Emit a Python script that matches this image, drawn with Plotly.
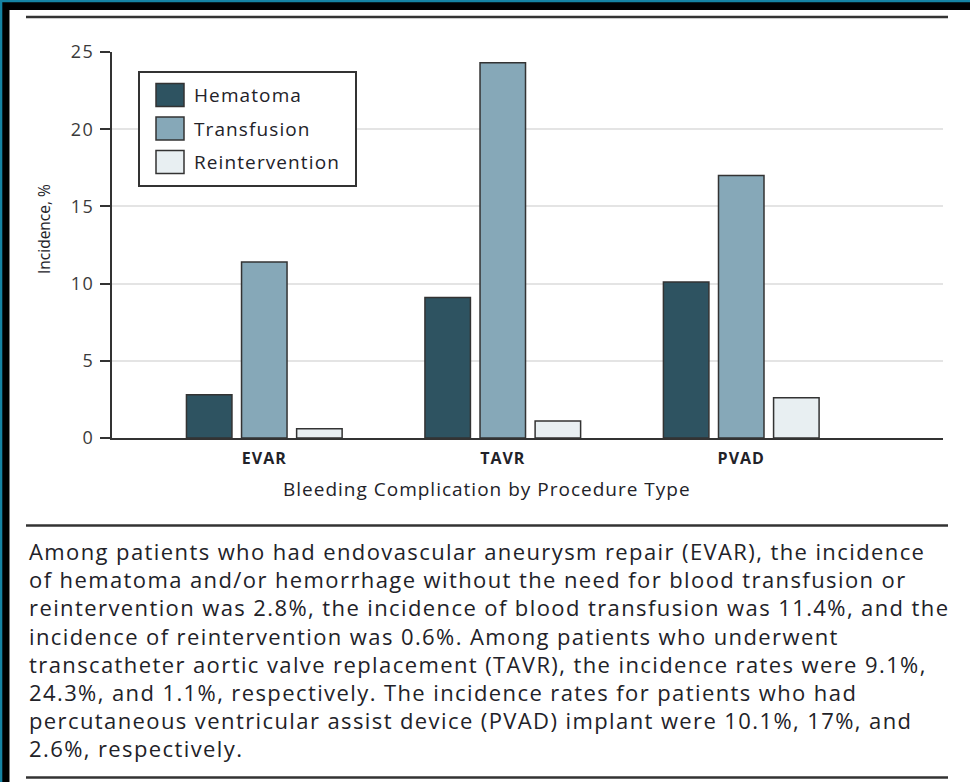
import plotly.graph_objects as go

# ---------------- data ----------------
procedures = ["EVAR", "TAVR", "PVAD"]
series_names = ["Hematoma", "Transfusion", "Reintervention"]
hematoma = [2.8, 9.1, 10.1]
transfusion = [11.4, 24.3, 17.0]
reintervention = [0.6, 1.1, 2.6]
series_values = [hematoma, transfusion, reintervention]
series_colors = ["#2e5361", "#86a8b8", "#e8eff2"]
y_ticks = [0, 5, 10, 15, 20, 25]

x_title = "Bleeding Complication by Procedure Type"
y_title = "Incidence, %"
caption_lines = [
    "Among patients who had endovascular aneurysm repair (EVAR), the incidence",
    "of hematoma and/or hemorrhage without the need for blood transfusion or",
    "reintervention was 2.8%, the incidence of blood transfusion was 11.4%, and the",
    "incidence of reintervention was 0.6%. Among patients who underwent",
    "transcatheter aortic valve replacement (TAVR), the incidence rates were 9.1%,",
    "24.3%, and 1.1%, respectively. The incidence rates for patients who had",
    "percutaneous ventricular assist device (PVAD) implant were 10.1%, 17%, and",
    "2.6%, respectively.",
]

# ---------------- geometry helpers (pixel -> paper) ----------------
W, H = 970, 782
L, R, T, B = 112, 943, 52, 438
def px(x):
    return (x - L) / (R - L)
def py(y):
    return (B - y) / (B - T)

def spaced(s, ls):
    return f'<span style="letter-spacing:{ls}px">{s}</span>'

TEXT = "#222228"
FONT = "Open Sans"

fig = go.Figure()
for name, vals, col in zip(series_names, series_values, series_colors):
    fig.add_trace(go.Bar(
        x=procedures, y=vals, name=name,
        marker=dict(color=col, line=dict(color="#333333", width=1.5)),
        showlegend=False, hoverinfo="x+y+name",
    ))

fig.update_layout(
    width=W, height=H,
    margin=dict(l=L, r=W - R, t=T, b=H - B, pad=0),
    paper_bgcolor="white", plot_bgcolor="white",
    barmode="group", bargap=0.307, bargroupgap=0.174,
    font=dict(family=FONT, color=TEXT),
)
fig.update_xaxes(
    type="category", range=[-0.6386, 2.846],
    showline=True, linecolor="#333333", linewidth=2,
    ticks="", showgrid=False, zeroline=False,
    tickvals=procedures, ticktext=[spaced(p, 1) for p in procedures],
    tickfont=dict(family=FONT, size=16, color=TEXT, weight="bold"),
    ticklabelstandoff=5,
)
fig.update_yaxes(
    range=[0, 25], tickvals=y_ticks, ticktext=[spaced(v, 1.5) for v in y_ticks],
    showline=True, linecolor="#333333", linewidth=2,
    ticks="outside", ticklen=10, tickwidth=2, tickcolor="#333333",
    showgrid=True, gridcolor="#e4e4e4", gridwidth=1.5, zeroline=False,
    tickfont=dict(family=FONT, size=18, color="#3a3a3a"),
    ticklabelstandoff=2,
)

shapes = []
annotations = []

# frame: teal edge + black border (top and left)
shapes.append(dict(type="rect", xref="paper", yref="paper", x0=px(0), x1=px(W), y0=py(0), y1=py(10),
                   fillcolor="#000000", line=dict(width=0), layer="above"))
shapes.append(dict(type="rect", xref="paper", yref="paper", x0=px(0), x1=px(9.5), y0=py(0), y1=py(H),
                   fillcolor="#000000", line=dict(width=0), layer="above"))
shapes.append(dict(type="rect", xref="paper", yref="paper", x0=px(0), x1=px(W), y0=py(0), y1=py(2.3),
                   fillcolor="#1583a3", line=dict(width=0), layer="above"))
shapes.append(dict(type="rect", xref="paper", yref="paper", x0=px(0), x1=px(2.3), y0=py(0), y1=py(H),
                   fillcolor="#1583a3", line=dict(width=0), layer="above"))

# horizontal rules
for yy in [17, 525.5, 777.5]:
    shapes.append(dict(type="line", xref="paper", yref="paper", x0=px(26), x1=px(948), y0=py(yy), y1=py(yy),
                       line=dict(color="#333333", width=2.5)))

# manual legend
shapes.append(dict(type="rect", xref="paper", yref="paper", x0=px(139), x1=px(356), y0=py(72), y1=py(186),
                   fillcolor="white", line=dict(color="#333333", width=2), layer="above"))
leg_centers = [95, 128.5, 162]
for name, col, cy in zip(series_names, series_colors, leg_centers):
    shapes.append(dict(type="rect", xref="paper", yref="paper", x0=px(156), x1=px(184),
                       y0=py(cy + 11.5), y1=py(cy - 11.5),
                       fillcolor=col, line=dict(color="#333333", width=1.5), layer="above"))
    annotations.append(dict(xref="paper", yref="paper", x=px(192), y=py(cy), xanchor="left", yanchor="middle",
                            text=spaced(name, 1.1), showarrow=False,
                            font=dict(family=FONT, size=19, color=TEXT)))

# axis titles
annotations.append(dict(xref="paper", yref="paper", x=px(487), y=py(489), xanchor="center", yanchor="middle",
                        text=spaced(x_title, 1.0), showarrow=False,
                        font=dict(family=FONT, size=19, color=TEXT)))
annotations.append(dict(xref="paper", yref="paper", x=px(44), y=py(229), xanchor="center", yanchor="middle",
                        text=y_title, textangle=-90, showarrow=False,
                        font=dict(family=FONT, size=15.5, color=TEXT)))

# caption
for i, line in enumerate(caption_lines):
    annotations.append(dict(xref="paper", yref="paper", x=px(27), y=py(551 + i * 28.2),
                            xanchor="left", yanchor="middle",
                            text=spaced(line, 1.4), showarrow=False,
                            font=dict(family=FONT, size=22, color=TEXT)))

fig.update_layout(shapes=shapes, annotations=annotations)
fig.write_html(
    "out.html",
    config={"displayModeBar": False},
    post_script="document.body.style.margin='0';document.body.style.overflow='hidden';",
)
